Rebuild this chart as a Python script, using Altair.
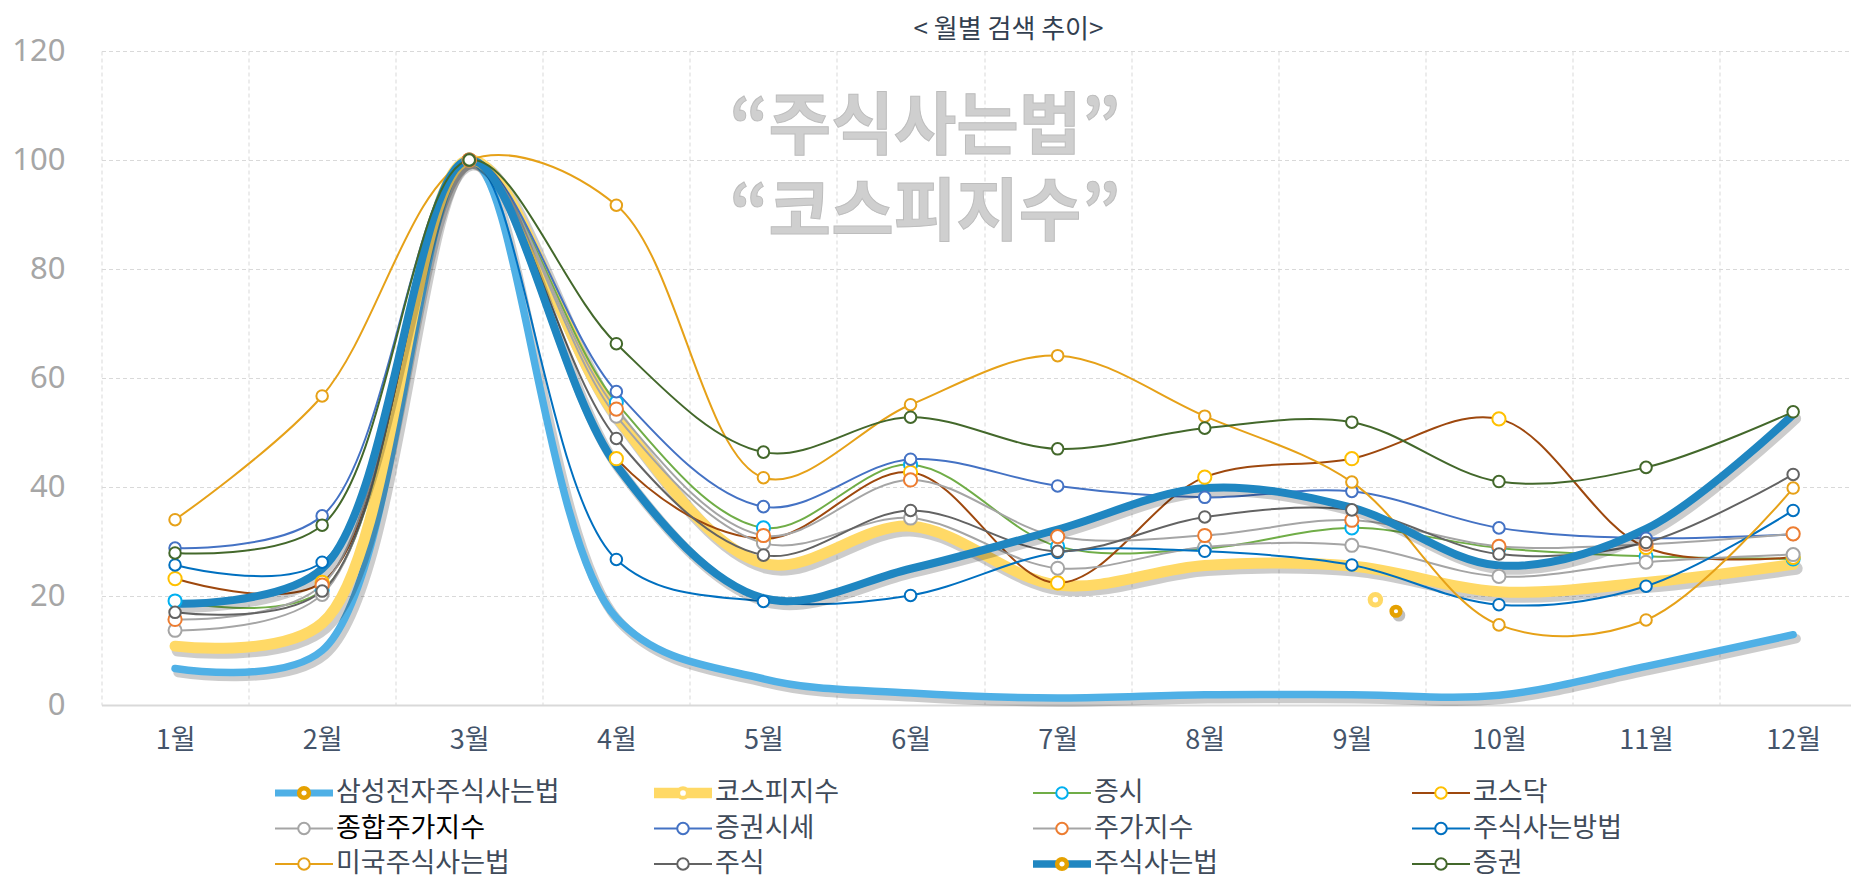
import altair as alt
import pandas as pd

# ---------------- data ----------------
months = list(range(1, 13))

samsung = [6.7, 10.0, 100, 16.0, 4.8, 2.2, 1.3, 1.9, 1.9, 1.8, 7.1, 12.9]
kospi_index = [10.8, 15.0, 100, 53.0, 26.0, 32.8, 22.0, 25.6, 25.5, 20.8, 22.5, 25.8]
jeungsi = [19.1, 21.0, 100, 55.5, 32.5, 44.1, 29.1, 28.7, 32.5, 28.8, 27.3, 26.8]
kosdaq = [23.2, 22.5, 100, 45.2, 30.5, 42.7, 22.4, 41.8, 45.2, 52.5, 28.9, 27.1]
jonghap = [13.7, 20.3, 100, 53.0, 29.7, 34.3, 25.1, 29.0, 29.3, 23.6, 26.2, 27.6]
sise = [28.8, 34.7, 100, 57.5, 36.4, 45.1, 40.2, 38.1, 39.2, 32.5, 30.6, 31.3]
juga = [15.7, 22.0, 100, 54.3, 31.1, 41.3, 30.9, 31.1, 33.9, 29.1, 29.5, 31.4]
bangbeop = [25.7, 26.2, 100, 26.7, 19.0, 20.1, 28.0, 28.2, 25.7, 18.4, 21.8, 35.7]
miguk = [34.0, 56.7, 100, 91.7, 41.7, 55.1, 64.1, 53.0, 40.9, 14.7, 15.6, 39.8]
jusik = [17.0, 20.9, 100, 48.9, 27.5, 35.7, 28.2, 34.5, 35.8, 27.7, 29.8, 42.3]
jusik_beop = [18.6, 25.0, 100, 44.0, 19.6, 25.0, 32.2, 39.8, 36.2, 25.6, 32.3, 53.3]
jeunggwon = [27.9, 33.0, 100, 66.3, 46.4, 52.8, 47.0, 50.8, 51.9, 41.0, 43.6, 53.8]

series_names = ["삼성전자주식사는법", "코스피지수", "증시", "코스닥",
                "종합주가지수", "증권시세", "주가지수", "주식사는방법",
                "미국주식사는법", "주식", "주식사는법", "증권"]
series_values = [samsung, kospi_index, jeungsi, kosdaq,
                 jonghap, sise, juga, bangbeop,
                 miguk, jusik, jusik_beop, jeunggwon]

# stray marker symbols floating in the plot (x in month units, y in value units)
stray_x = [9.16, 9.30]
stray_y = [19.3, 17.2]

watermark_text = "\u201c주식사는법\u201d\n\u201c코스피지수\u201d"
title_text = "< 월별 검색 추이>"

# ---------------- styles ----------------
line_colors = ["#4fb0e6", "#ffd966", "#70ad47", "#9e480e",
               "#a5a5a5", "#4472c4", "#a5a5a5", "#0070c0",
               "#e6a118", "#636363", "#1f86c1", "#43682b"]
marker_colors = ["#e5a100", "#ffd966", "#00b0f0", "#ffc000",
                 "#a5a5a5", "#4472c4", "#ed7d31", "#0070c0",
                 "#e6a118", "#636363", "#e5a100", "#43682b"]
line_widths = [7.5, 11, 2, 2, 2, 2, 2, 2, 2, 2, 8, 2]
thick = [True, True, False, False, False, False, False, False, False, False, True, False]
marker_sizes = [133, 133, 170, 175, 170, 133, 175, 133, 133, 133, 133, 133]
legend_text_colors = ["#404b5a"] * 12
legend_text_colors[4] = "#000000"
legend_marker_stroke = [4.5, 4.0, 2, 2, 2, 2, 2, 2, 2, 2, 4.5, 2]
legend_marker_size = [95, 95, 133, 133, 133, 133, 133, 133, 133, 133, 95, 133]

FONT = "Noto Sans CJK KR"
PLOT_W = 1749
PLOT_H = 654
BAND = 147.1
X_MAX = 0.5 + PLOT_W / BAND

rows = []
for name, vals in zip(series_names, series_values):
    for m, v in zip(months, vals):
        rows.append({"series": name, "month": m, "value": v})
df = pd.DataFrame(rows)

grid_x = [m - 0.5 for m in months]

x_enc = alt.X(
    "month:Q",
    scale=alt.Scale(domain=[0.5, X_MAX], nice=False, zero=False),
    axis=alt.Axis(
        values=grid_x,
        labelExpr="(datum.value + 0.5) + '월'",
        title=None, grid=True, gridDash=[4, 3], gridColor="#d9d9d9", gridWidth=1,
        ticks=False, tickSize=0, domain=True, domainColor="#d9d9d9", domainWidth=2,
        labelOffset=BAND / 2, labelPadding=35, labelBaseline="middle",
        labelFontSize=27, labelColor="#44546a", labelFont=FONT,
        labelOverlap=False, labelFlush=False, labelBound=False,
    ),
)
y_enc = alt.Y(
    "value:Q",
    scale=alt.Scale(domain=[0, 120], nice=False, zero=True),
    axis=alt.Axis(
        values=[0, 20, 40, 60, 80, 100, 120], title=None, grid=True,
        gridDash=[4, 3], gridColor="#d9d9d9", gridWidth=1,
        ticks=False, tickSize=0, domain=False, labelPadding=36.5,
        labelFontSize=31, labelColor="#a6a6a6", labelFont="Noto Sans",
        labelBaseline="middle",
    ),
)

base = alt.Chart(df)

# watermark (two lines in one text)
wm_df = pd.DataFrame({"t": [watermark_text]})
wm_layers = [
    alt.Chart(wm_df).mark_text(font=FONT, fontSize=68, fontWeight="bold", color="#cfcfcf",
                               stroke="#bdbdbd", strokeWidth=1,
                               align="center", baseline="middle", lineBreak="\n", lineHeight=86).encode(
        x=alt.value(823.5), y=alt.value(78), text="t:N"),
]

line_layers = []
for i, name in enumerate(series_names):
    sel = base.transform_filter(alt.datum.series == name)
    if thick[i]:
        line_layers.append(sel.mark_line(interpolate="catmull-rom", color="#000000", opacity=0.2,
                                         strokeWidth=line_widths[i] + 2, strokeCap="round",
                                         xOffset=3, yOffset=4).encode(x=x_enc, y=y_enc))
    line_layers.append(sel.mark_line(interpolate="catmull-rom", color=line_colors[i],
                                     strokeWidth=line_widths[i], strokeCap="round",
                                     strokeJoin="round").encode(x=x_enc, y=y_enc))

point_layers = []
for i, name in enumerate(series_names):
    if thick[i]:
        continue
    sel = base.transform_filter(alt.datum.series == name)
    point_layers.append(sel.mark_point(shape="circle", filled=True, fill="white", opacity=1,
                                       stroke=marker_colors[i], strokeWidth=2,
                                       size=marker_sizes[i]).encode(x=x_enc, y=y_enc))

stray_df = pd.DataFrame({"month": stray_x, "value": stray_y, "k": [0, 1]})
stray = alt.Chart(stray_df)
stray_layers = [
    stray.transform_filter(alt.datum.k == 1).mark_point(shape="circle", filled=True, color="#000000",
                                                        opacity=0.25, size=160, xOffset=3, yOffset=4).encode(x=x_enc, y=y_enc),
    stray.transform_filter(alt.datum.k == 0).mark_point(shape="circle", filled=True, fill="white", opacity=1,
                                                        stroke="#ffd966", strokeWidth=5, size=110).encode(x=x_enc, y=y_enc),
    stray.transform_filter(alt.datum.k == 1).mark_point(shape="circle", filled=True, fill="white", opacity=1,
                                                        stroke="#e5a100", strokeWidth=4.5, size=75).encode(x=x_enc, y=y_enc),
]

# custom legend (4 columns x 3 rows)
leg_rows = []
for i, name in enumerate(series_names):
    col, row = i % 4, i // 4
    lx = 173.5 + col * 379
    leg_rows.append({
        "name": name, "lx": lx, "lx2": lx + 58, "cx": lx + 29, "tx": lx + 61,
        "ly": 742 + row * 35.5, "lc": line_colors[i], "mc": marker_colors[i],
        "lw": line_widths[i] if not thick[i] else line_widths[i] - 0.5,
        "mw": legend_marker_stroke[i], "ms": legend_marker_size[i], "tc": legend_text_colors[i],
    })
leg_df = pd.DataFrame(leg_rows)
leg = alt.Chart(leg_df)
legend_layers = [
    leg.mark_rule().encode(
        x=alt.X("lx:Q", scale=None, axis=None), x2="lx2:Q",
        y=alt.Y("ly:Q", scale=None, axis=None),
        color=alt.Color("lc:N", scale=None, legend=None),
        strokeWidth=alt.StrokeWidth("lw:Q", scale=None, legend=None)),
    leg.mark_point(shape="circle", filled=True, fill="white", opacity=1).encode(
        x=alt.X("cx:Q", scale=None, axis=None),
        y=alt.Y("ly:Q", scale=None, axis=None),
        stroke=alt.Stroke("mc:N", scale=None, legend=None),
        strokeWidth=alt.StrokeWidth("mw:Q", scale=None, legend=None),
        size=alt.Size("ms:Q", scale=None, legend=None)),
    leg.mark_text(font=FONT, fontSize=27, align="left", baseline="middle").encode(
        x=alt.X("tx:Q", scale=None, axis=None),
        y=alt.Y("ly:Q", scale=None, axis=None),
        text="name:N",
        color=alt.Color("tc:N", scale=None, legend=None)),
]

title_df = pd.DataFrame({"t": [title_text]})
title_layer = alt.Chart(title_df).mark_text(font=FONT, fontSize=26, color="#333f50",
                                            align="center", baseline="middle").encode(
    x=alt.value(907), y=alt.value(-21), text="t:N")

chart = alt.layer(*wm_layers, *line_layers, *point_layers, *stray_layers,
                  *legend_layers, title_layer).properties(
    width=PLOT_W, height=PLOT_H,
    autosize=alt.AutoSizeParams(type="none"),
    padding={"left": 93.5, "top": 43, "right": 0, "bottom": 175},
    background="white",
).configure_view(stroke=None)

chart.save("out.html", embed_options={"renderer": "svg", "actions": False})
